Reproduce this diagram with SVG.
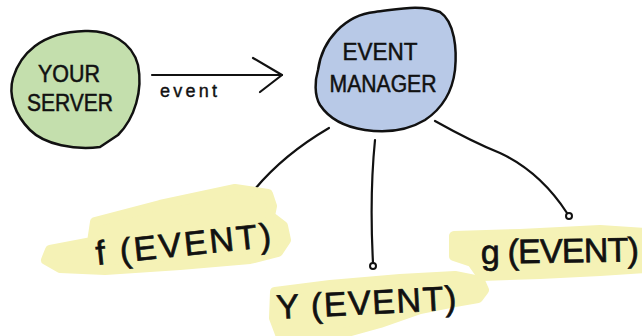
<svg xmlns="http://www.w3.org/2000/svg" width="642" height="336" viewBox="0 0 642 336">
<style>
.hl{fill:#f5f2b6;stroke:#f5f2b6;stroke-width:10;stroke-linejoin:round}
.blob{stroke:#111;stroke-width:2.5;stroke-linejoin:round}
.lbl{font-family:"Liberation Sans",Arial,sans-serif;fill:#111;stroke:#111;stroke-width:0.5;font-size:23px;text-anchor:middle}
.big{font-family:"Liberation Sans",Arial,sans-serif;fill:#111;stroke:#111;stroke-width:0.7;font-size:34px}
.edge{fill:none;stroke:#111;stroke-width:2.2;stroke-linecap:round;stroke-linejoin:round}
.dot{fill:#fff;stroke:#111;stroke-width:2}
</style>
<rect width="642" height="336" fill="#fff"/>
<g id="connectors">
  <path class="edge" d="M152,75 L282,75"/>
  <path class="edge" d="M253,58 L282,75 L260,92"/>
  <text x="160" y="97" font-family="Liberation Sans,Arial,sans-serif" font-size="18" fill="#111" stroke="#111" stroke-width="0.4" textLength="57" lengthAdjust="spacing">event</text>
  <path class="edge" d="M329,128 C300,145 275,165 255,189"/>
  <circle class="dot" cx="253" cy="191" r="3"/>
  <path class="edge" d="M375,140 C371,180 371,225 373,263"/>
  <circle class="dot" cx="373" cy="266" r="3"/>
  <path class="edge" d="M435,121 C460,135 480,145 500,153 C530,167 552,190 567,213"/>
  <circle class="dot" cx="569" cy="216" r="3"/>
</g>
<g id="your-server">
  <path class="blob" fill="#c4dfad" d="M85,31 C110,30 132,42 138,65 C143,90 135,118 118,135 L100,147 C75,150 45,145 30,130 C15,115 8,95 13,78 C20,55 40,32 85,31 Z"/>
  <text class="lbl" x="69" y="82" textLength="62" lengthAdjust="spacingAndGlyphs">YOUR</text>
  <text class="lbl" x="70" y="111" textLength="86" lengthAdjust="spacingAndGlyphs">SERVER</text>
</g>
<g id="event-manager">
  <path class="blob" fill="#b8c9e7" d="M318,70 C322,40 345,15 375,12 C400,9 420,4 440,12 C455,22 457,50 455,70 C452,95 440,110 425,120 C405,132 385,133 365,130 C345,127 330,120 320,105 C314,95 315,80 318,70 Z"/>
  <text class="lbl" x="380" y="60" textLength="75" lengthAdjust="spacingAndGlyphs">EVENT</text>
  <text class="lbl" x="383" y="92" textLength="107" lengthAdjust="spacingAndGlyphs">MANAGER</text>
</g>
<g id="f-event">
  <path class="hl" d="M95,222 L160,205 L235,189 L268,194 L272,206 L270,216 L283,226 L286,240 L278,252 L250,259 L180,265 L105,270 L60,268 L46,260 L50,250 L92,242 Z"/>
  <text class="big" x="97" y="265" transform="rotate(-6 97 265)" textLength="176" lengthAdjust="spacing">f (EVENT)</text>
</g>
<g id="y-event">
  <path class="hl" d="M275,292 L330,285 L400,279 L455,276 L480,281 L484,290 L478,298 L455,302 L420,309 L380,323 L340,334 L280,334 L274,318 Z"/>
  <text class="big" x="277" y="319" transform="rotate(-3 277 319)" textLength="180" lengthAdjust="spacing">Y (EVENT)</text>
</g>
<g id="g-event">
  <path class="hl" d="M454,236 L520,234 L600,230 L645,233 L645,268 L600,271 L540,274 L482,276 L472,262 L454,256 Z"/>
  <text class="big" x="481" y="264" transform="rotate(-1 481 264)" textLength="158" lengthAdjust="spacing">g (EVENT)</text>
</g>
</svg>
